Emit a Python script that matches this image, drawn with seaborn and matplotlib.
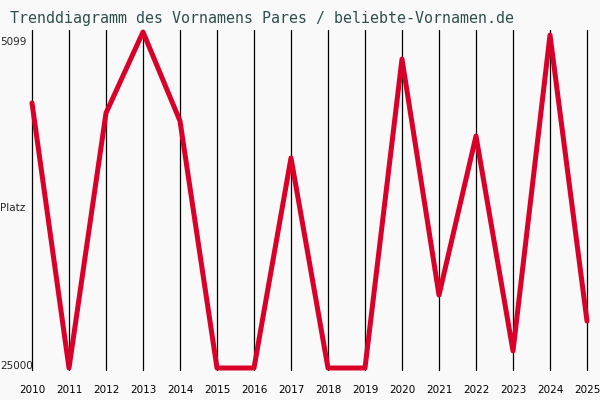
import matplotlib
matplotlib.use("Agg")
import matplotlib.pyplot as plt
import seaborn as sns
import pandas as pd

# ranking per year (25000 = not ranked)
years = [2010, 2011, 2012, 2013, 2014, 2015, 2016, 2017,
         2018, 2019, 2020, 2021, 2022, 2023, 2024, 2025]
ranks = [9300, 25000, 9900, 5099, 10370, 25000, 25000, 12560,
         25000, 25000, 6700, 20680, 11260, 23990, 5280, 22220]
title = "Trenddiagramm des Vornamens Pares / beliebte-Vornamen.de"
best_label = "5099"
worst_label = "25000"

bg = "#f9f9f9"
line_color = "#d9002a"
title_color = "#2f4f4f"

sns.set_style("white")
plt.rcParams["font.family"] = ["DejaVu Sans"]

df = pd.DataFrame({"year": years, "rank": ranks})

fig = plt.figure(figsize=(6, 4), dpi=100, facecolor=bg)
ax = fig.add_axes([32 / 600, 1 - 370 / 400, (587 - 32) / 600, 340 / 400])
ax.set_facecolor(bg)

for y in years:
    ax.axvline(y, color="black", linewidth=0.9, zorder=1, clip_on=False)

sns.lineplot(data=df, x="year", y="rank", color=line_color, linewidth=3.6,
             ax=ax, zorder=3, clip_on=False)

ax.set_xlim(2010, 2025)
ax.set_ylim(25118, 4981)
for s in ax.spines.values():
    s.set_visible(False)
ax.set_xlabel("")
ax.set_ylabel("")
ax.set_yticks([])
ax.set_xticks(years)
ax.set_xticklabels([str(y) for y in years], fontsize=7.5, color="black")
ax.tick_params(axis="x", length=0, pad=11)

fig.text(0, 1 - 42 / 400, best_label, fontsize=7.5, ha="left", va="center")
fig.text(0, 1 - 208 / 400, "Platz", fontsize=7.5, ha="left", va="center")
fig.text(0, 1 - 366 / 400, worst_label, fontsize=7.5, ha="left", va="center")

fig.text(10 / 600, 1 - 18 / 400, title, fontsize=10.8,
         family="DejaVu Sans Mono", color=title_color, ha="left", va="center")

fig.savefig("out.png", dpi=100, facecolor=bg)
